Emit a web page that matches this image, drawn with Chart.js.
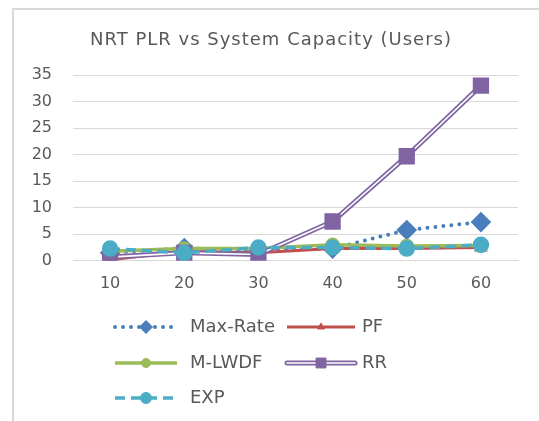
<!DOCTYPE html>
<html>
<head>
<meta charset="utf-8">
<script src="https://cdn.jsdelivr.net/npm/chart.js@4/dist/chart.umd.min.js"></script>
<style>
  html, body { margin: 0; padding: 0; background: #fff; overflow: hidden; }
  canvas { display: block; }
</style>
</head>
<body>
<canvas id="plrChart" width="539" height="421"></canvas>
<script>
// data
const users = ['10', '20', '30', '40', '50', '60'];
const maxRate = [1.5, 2.4, 2.0, 2.3, 5.8, 7.3];
const pf = [0.2, 1.8, 1.5, 2.3, 2.3, 2.5];
const mlwdf = [1.8, 2.3, 2.3, 3.0, 2.8, 2.9];
const rr = [0.7, 1.5, 1.2, 7.4, 19.7, 33.0];
const exp = [2.3, 1.5, 2.5, 2.5, 2.3, 3.0];
const yTicks = [0, 5, 10, 15, 20, 25, 30, 35];

const TITLE = 'NRT PLR vs System Capacity (Users)';
const TEXT = '#595959';
const FONT = "'DejaVu Sans', Verdana, sans-serif";
const RR_INDEX = 3;

// chart-area frame (only left and top edges are inside the crop) + wide title
const frameAndTitle = {
  id: 'frameAndTitle',
  beforeDraw(chart) {
    const ctx = chart.ctx;
    ctx.save();
    ctx.fillStyle = '#ffffff';
    ctx.fillRect(0, 0, chart.width, chart.height);
    ctx.strokeStyle = '#d9d9d9';
    ctx.lineWidth = 2;
    ctx.beginPath();
    ctx.moveTo(13, chart.height);
    ctx.lineTo(13, 9);
    ctx.lineTo(chart.width, 9);
    ctx.stroke();
    ctx.restore();
  },
  afterDraw(chart) {
    const ctx = chart.ctx;
    ctx.save();
    ctx.font = '18px ' + FONT;
    ctx.letterSpacing = '1px';
    ctx.fillStyle = TEXT;
    ctx.textAlign = 'center';
    ctx.textBaseline = 'middle';
    ctx.fillText(TITLE, 271, 40);
    ctx.restore();
  }
};

// RR is drawn as a double line (purple outline, white core) under its markers
const doubleLine = {
  id: 'doubleLine',
  beforeDatasetDraw(chart, args) {
    if (args.index !== RR_INDEX) return;
    const pts = args.meta.data;
    const ctx = chart.ctx;
    ctx.save();
    ctx.lineJoin = 'round';
    [['#8064a2', 5], ['#ffffff', 1.6]].forEach(([col, w]) => {
      ctx.beginPath();
      pts.forEach((p, i) => i ? ctx.lineTo(p.x, p.y) : ctx.moveTo(p.x, p.y));
      ctx.strokeStyle = col;
      ctx.lineWidth = w;
      ctx.stroke();
    });
    ctx.restore();
  }
};

// Excel-style legend: two columns, line sample with marker in the middle
const sampleLegend = {
  id: 'sampleLegend',
  afterDraw(chart) {
    const ctx = chart.ctx;
    const slots = [[115, 327], [287, 327], [115, 363], [287, 363], [115, 398]];
    chart.data.datasets.forEach((ds, i) => {
      const [x, y] = slots[i];
      const len = i % 2 ? 68 : 62;
      ctx.save();
      if (i === RR_INDEX) {
        [['#8064a2', 5], ['#ffffff', 1.6]].forEach(([col, w]) => {
          ctx.beginPath(); ctx.moveTo(x, y); ctx.lineTo(x + len, y);
          ctx.strokeStyle = col; ctx.lineWidth = w; ctx.lineCap = 'round'; ctx.stroke();
        });
      } else {
        ctx.beginPath(); ctx.moveTo(x, y); ctx.lineTo(x + len, y);
        ctx.strokeStyle = ds.borderColor;
        ctx.lineWidth = ds.borderWidth;
        ctx.lineCap = ds.borderCapStyle || 'butt';
        ctx.setLineDash(ds.borderDash || []);
        ctx.stroke();
      }
      ctx.restore();
      const opts = { pointStyle: ds.pointStyle, radius: ds.pointRadius - 1, borderWidth: 1, rotation: 0 };
      ctx.save();
      ctx.fillStyle = ds.pointBackgroundColor;
      ctx.strokeStyle = ds.pointBorderColor;
      ctx.lineWidth = 1;
      Chart.helpers.drawPoint(ctx, opts, x + len / 2, y);
      ctx.restore();
      ctx.save();
      ctx.fillStyle = TEXT;
      ctx.font = '18px ' + FONT;
      ctx.textBaseline = 'middle';
      ctx.fillText(ds.label, x + 75, y);
      ctx.restore();
    });
  }
};

function series(label, data, color, extra) {
  return Object.assign({
    label: label,
    data: data,
    borderColor: color,
    backgroundColor: color,
    pointBackgroundColor: color,
    pointBorderColor: color,
    borderWidth: 3,
    tension: 0,
    fill: false
  }, extra);
}

new Chart(document.getElementById('plrChart'), {
  type: 'line',
  data: {
    labels: users,
    datasets: [
      series('Max-Rate', maxRate, '#4a7ebb', { borderDash: [0, 8], borderCapStyle: 'round', borderWidth: 4, pointStyle: 'rectRot', pointRadius: 7.5, order: 5 }),
      series('PF', pf, '#c0504d', { pointStyle: 'triangle', pointRadius: 5, order: 4 }),
      series('M-LWDF', mlwdf, '#9bbb59', { borderWidth: 3.5, pointStyle: 'circle', pointRadius: 5.5, order: 3 }),
      series('RR', rr, '#8064a2', { showLine: false, borderWidth: 5, pointStyle: 'rect', pointRadius: 8, order: 2 }),
      series('EXP', exp, '#4bacc6', { borderDash: [10, 6], borderWidth: 3.5, pointStyle: 'circle', pointRadius: 6.5, order: 1 })
    ]
  },
  options: {
    responsive: false,
    animation: false,
    layout: { padding: { left: 0, right: 21, top: 75, bottom: 115 } },
    plugins: {
      legend: { display: false },
      tooltip: { enabled: false },
      title: { display: false }
    },
    scales: {
      x: {
        offset: true,
        grid: { display: false, drawTicks: false },
        border: { display: true, color: '#d9d9d9' },
        ticks: { color: TEXT, font: { family: FONT, size: 16 }, padding: 13 }
      },
      y: {
        min: yTicks[0],
        max: yTicks[yTicks.length - 1],
        afterBuildTicks: s => { s.ticks = yTicks.map(v => ({ value: v })); },
        afterFit: s => { s.width = 73; },
        grid: { color: '#d9d9d9', drawTicks: false },
        border: { display: false },
        ticks: { color: TEXT, font: { family: FONT, size: 16 }, padding: 21 }
      }
    }
  },
  plugins: [frameAndTitle, doubleLine, sampleLegend]
});
</script>
</body>
</html>
